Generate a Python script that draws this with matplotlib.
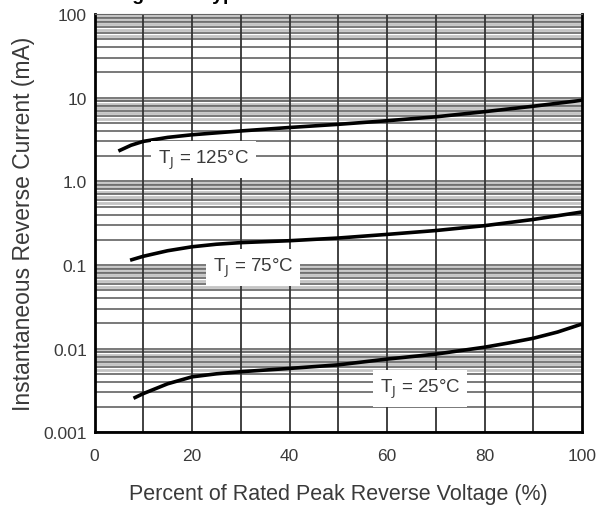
"""Typical reverse current vs percent of rated peak reverse voltage."""
import matplotlib
matplotlib.use("Agg")
import matplotlib.pyplot as plt

plt.rcParams["font.family"] = ["Liberation Sans", "DejaVu Sans"]

# curves (x in %, y in mA)
pct_125 = [4.9, 7.5, 10, 15, 20, 30, 40, 50, 60, 70, 80, 90, 100]
ir_125 = [2.3, 2.7, 3.0, 3.35, 3.6, 4.0, 4.4, 4.8, 5.3, 5.9, 6.8, 7.9, 9.3]

pct_75 = [7.3, 10, 15, 20, 25, 30, 40, 50, 60, 70, 80, 90, 100]
ir_75 = [0.114, 0.127, 0.148, 0.165, 0.177, 0.185, 0.195, 0.21, 0.232, 0.258, 0.295, 0.35, 0.43]

pct_25 = [8.0, 10, 15, 20, 25, 30, 40, 50, 60, 70, 80, 85, 90, 95, 100]
ir_25 = [0.00255, 0.0029, 0.0038, 0.0046, 0.0050, 0.0053, 0.0058, 0.0064, 0.0075, 0.0086,
         0.0104, 0.0117, 0.0133, 0.0158, 0.0197]

labels = [r"T$_\mathrm{J}$ = 125°C", r"T$_\mathrm{J}$ = 75°C", r"T$_\mathrm{J}$ = 25°C"]
label_pos = [(22.3, 1.83), (32.5, 0.093), (66.8, 0.00336)]

xticks = [0, 20, 40, 60, 80, 100]
yticks = [0.001, 0.01, 0.1, 1.0, 10, 100]
ytick_labels = ["0.001", "0.01", "0.1", "1.0", "10", "100"]

txt = "#3a3a3a"
fig = plt.figure(figsize=(6.08, 5.06), dpi=100)
ax = fig.add_axes([94.5 / 608, 1 - 433.3 / 506, 487.5 / 608, 418.3 / 506])
ax.set_yscale("log")
ax.set_xlim(0, 100); ax.set_ylim(0.001, 100)

# chart-paper grid: dark lines at 1..9 of each decade, grey bands near the top
for dec in [0.001, 0.01, 0.1, 1, 10]:
    for m in [5.5, 6.5, 7.5, 8.5, 9.5]:
        ax.axhline(dec * m, color="#c4c4c4", lw=2.0, zorder=1)
    for m in range(2, 10):
        ax.axhline(dec * m, color="#555555", lw=1.1, zorder=1)
    ax.axhline(dec, color="#555555", lw=1.1, zorder=1)
for x in range(10, 100, 10):
    ax.axvline(x, color="#333333", lw=1.3, zorder=1)

for p, i in [(pct_125, ir_125), (pct_75, ir_75), (pct_25, ir_25)]:
    ax.plot(p, i, color="black", lw=2.6, solid_capstyle="butt", zorder=3)

for s, (x, y) in zip(labels, label_pos):
    ax.text(x, y, s, ha="center", va="center", fontsize=13.5, color=txt, zorder=4,
            bbox=dict(facecolor="white", edgecolor="none", pad=5))

ax.set_xticks(xticks)
ax.set_yticks(yticks)
ax.set_yticklabels(ytick_labels)
ax.minorticks_off()
ax.tick_params(length=0, labelsize=12.5, colors=txt)
ax.tick_params(axis="x", pad=11)
ax.tick_params(axis="y", pad=5.5)
for side in ["left", "right", "bottom"]:
    ax.spines[side].set_linewidth(2)
ax.spines["top"].set_color("#666666")
ax.set_xlabel("Percent of Rated Peak Reverse Voltage (%)", fontsize=15.5, color=txt, labelpad=15)
ax.set_ylabel("Instantaneous Reverse Current (mA)", fontsize=16.5, color=txt, labelpad=6)

fig.text(115 / 608, 1.0, "Figure 4. Typical Reverse Current", fontsize=14, fontweight="bold",
         va="baseline", color="black")

fig.savefig("out.png", dpi=100)
